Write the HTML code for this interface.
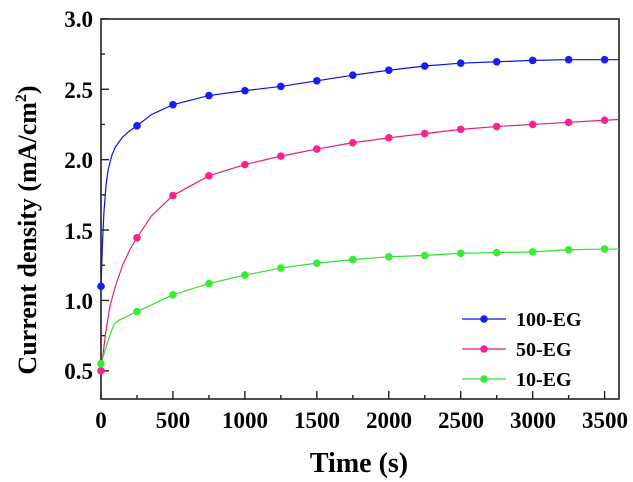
<!DOCTYPE html>
<html><head><style>
body{margin:0;background:#fff;}
svg{display:block;font-family:"Liberation Serif",serif;font-weight:bold;}
</style></head><body>
<svg id="s" width="633" height="482" viewBox="0 0 633 482">
<rect x="101" y="19" width="518" height="380" fill="none" stroke="#222" stroke-width="1.6"/>
<g font-size="23" text-anchor="end">
<text x="93" y="27">3.0</text>
<text x="93" y="98">2.5</text>
<text x="93" y="168">2.0</text>
<text x="93" y="239">1.5</text>
<text x="93" y="309">1.0</text>
<text x="93" y="379">0.5</text>
</g>
<g font-size="23" text-anchor="middle">
<text x="101" y="428">0</text>
<text x="173" y="428">500</text>
<text x="245" y="428">1000</text>
<text x="317" y="428">1500</text>
<text x="389" y="428">2000</text>
<text x="461" y="428">2500</text>
<text x="533" y="428">3000</text>
<text x="605" y="428">3500</text>
</g>
<text x="359" y="472" font-size="28" text-anchor="middle">Time (s)</text>
<text transform="translate(36,230) rotate(-90)" font-size="26" text-anchor="middle">Current density (mA/cm<tspan dy="-10" font-size="16">2</tspan><tspan dy="10">)</tspan></text>
<g id="ticks" stroke="#222" stroke-width="1.4"></g>
<g id="series"></g>
<g font-size="20">
<line x1="462" y1="319" x2="506" y2="319" stroke="#1010e0" stroke-width="1.2"/><circle cx="484" cy="319" r="3.8" fill="#1a1aff"/>
<text x="516" y="326">100-EG</text>
<line x1="462" y1="349" x2="506" y2="349" stroke="#e0207a" stroke-width="1.2"/><circle cx="484" cy="349" r="3.8" fill="#ff2090"/>
<text x="516" y="356">50-EG</text>
<line x1="462" y1="379" x2="506" y2="379" stroke="#30e030" stroke-width="1.2"/><circle cx="484" cy="379" r="3.8" fill="#33ee33"/>
<text x="516" y="386">10-EG</text>
</g>
</svg>
<script>
var X=function(t){return 101+t*518/3600},Y=function(v){return 399-(v-0.3)*140.8};
var tk=document.getElementById('ticks'),h='';
for(var t=0;t<=3500;t+=250){var m=t%500==0,x=X(t);h+='<line x1="'+x+'" y1="399" x2="'+x+'" y2="'+(399-(m?8:4))+'"/>';}
for(var v=0.5;v<=3.01;v+=0.25){var m=Math.abs(v*2-Math.round(v*2))<1e-6,y=Y(v);h+='<line x1="101" y1="'+y+'" x2="'+(101+(m?8:4))+'" y2="'+y+'"/>';}
tk.innerHTML=h;
var S=[
{c:'#1010e0',f:'#1a1aff',line:[[0,1.1],[10,1.4],[20,1.62],[35,1.82],[50,1.93],[75,2.03],[100,2.09],[150,2.16],[200,2.205],[250,2.24],[350,2.32],[500,2.39],[750,2.455],[1000,2.49],[1250,2.52],[1500,2.56],[1750,2.6],[2000,2.635],[2250,2.665],[2500,2.685],[2750,2.695],[3000,2.705],[3250,2.71],[3500,2.71],[3600,2.71]],
 pts:[[0,1.1],[250,2.24],[500,2.39],[750,2.455],[1000,2.49],[1250,2.52],[1500,2.56],[1750,2.6],[2000,2.635],[2250,2.665],[2500,2.685],[2750,2.695],[3000,2.705],[3250,2.71],[3500,2.71]]},
{c:'#e0207a',f:'#ff2090',line:[[0,0.5],[30,0.75],[60,0.95],[100,1.1],[150,1.25],[200,1.36],[250,1.445],[350,1.6],[500,1.745],[750,1.885],[1000,1.965],[1250,2.025],[1500,2.075],[1750,2.12],[2000,2.155],[2250,2.185],[2500,2.215],[2750,2.235],[3000,2.25],[3250,2.265],[3500,2.28],[3600,2.285]],
 pts:[[0,0.5],[250,1.445],[500,1.745],[750,1.885],[1000,1.965],[1250,2.025],[1500,2.075],[1750,2.12],[2000,2.155],[2250,2.185],[2500,2.215],[2750,2.235],[3000,2.25],[3250,2.265],[3500,2.28]]},
{c:'#30e030',f:'#33ee33',line:[[0,0.55],[30,0.65],[60,0.75],[90,0.83],[125,0.86],[250,0.92],[500,1.04],[750,1.12],[1000,1.18],[1250,1.23],[1500,1.265],[1750,1.29],[2000,1.31],[2250,1.32],[2500,1.335],[2750,1.34],[3000,1.345],[3250,1.36],[3500,1.365],[3600,1.365]],
 pts:[[0,0.55],[250,0.92],[500,1.04],[750,1.12],[1000,1.18],[1250,1.23],[1500,1.265],[1750,1.29],[2000,1.31],[2250,1.32],[2500,1.335],[2750,1.34],[3000,1.345],[3250,1.36],[3500,1.365]]}
];
var g='';
S.forEach(function(s){g+='<polyline fill="none" stroke="'+s.c+'" stroke-width="1.2" points="'+s.line.map(function(p){return X(p[0])+','+Y(p[1])}).join(' ')+'"/>';
s.pts.forEach(function(p){g+='<circle cx="'+X(p[0])+'" cy="'+Y(p[1])+'" r="3.8" fill="'+s.f+'"/>';});});
document.getElementById('series').innerHTML=g;
</script>
</body></html>
